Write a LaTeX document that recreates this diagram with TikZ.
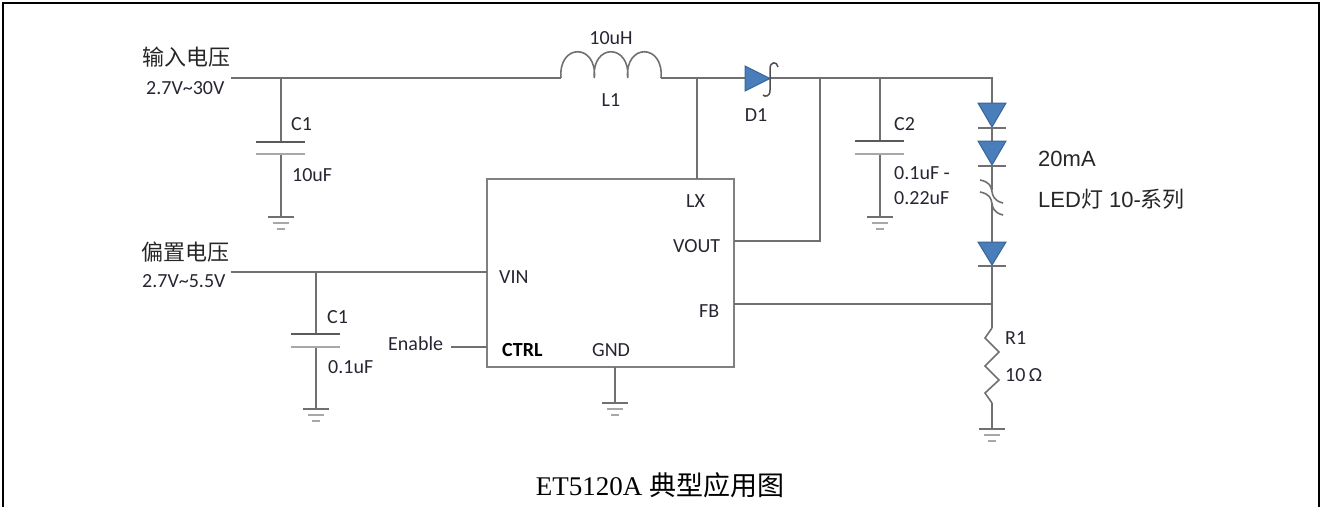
\documentclass[tikz,border=0pt]{standalone}
\usepackage{fontspec}
\setmainfont{Carlito}
\newfontfamily\cjk{Noto Sans CJK SC}
\newfontfamily\arialf{Liberation Sans}
\newfontfamily\timesf{Liberation Serif}
\definecolor{wirec}{HTML}{707070}
\definecolor{platelight}{HTML}{A8A8A8}
\definecolor{ledfill}{HTML}{4A7EBB}
\definecolor{ledline}{HTML}{3A6496}
\definecolor{txt}{HTML}{262633}
\definecolor{boxc}{HTML}{808080}
\begin{document}
\begin{tikzpicture}[x=1pt,y=-1pt,
  wire/.style={draw=wirec, line width=1.6pt},
  darkplate/.style={draw=wirec!80!black, line width=2pt},
  lightplate/.style={draw=platelight, line width=2.4pt},
  lbl/.style={inner sep=0pt, anchor=west, text=txt, font=\fontsize{20}{22}\selectfont},
  clbl/.style={lbl, anchor=center},
  cjklbl/.style={inner sep=0pt, anchor=west, text=black!85, font=\cjk\fontsize{22}{24}\selectfont},
  ledlbl/.style={inner sep=0pt, anchor=west, text=black!85, font=\arialf\fontsize{22}{24}\selectfont},
  icbox/.style={draw=boxc, line width=2pt, inner sep=0pt, minimum width=247pt, minimum height=188pt},
  ledtri/.style={fill=ledfill, draw=ledline, line width=1pt},
  gnd/.pic={
    \draw[wire] (-13,0) -- (13,0);
    \draw[draw=platelight, line width=1.6pt] (-8,6) -- (8,6);
    \draw[draw=platelight, line width=1.6pt] (-4,12) -- (4,12);
  }
]
\useasboundingbox (0,0) rectangle (1323,507);
% frame
\draw[black, line width=2.5pt] (3,507) -- (3,3) -- (1319,3) -- (1319,507);

% ---------- coordinates ----------
\coordinate (inS) at (231,78);
\coordinate (c1j) at (281,78);
\coordinate (c1p1) at (281,142);
\coordinate (c1p2) at (281,154);
\coordinate (c1g) at (281,217);
\coordinate (Ls) at (561,78);
\coordinate (Le) at (661,78);
\coordinate (lxj) at (697,78);
\coordinate (dA) at (745,78);
\coordinate (dK) at (770,78);
\coordinate (voj) at (820,78);
\coordinate (c2j) at (880,78);
\coordinate (c2p1) at (880,141);
\coordinate (c2p2) at (880,154);
\coordinate (c2g) at (880,217);
\coordinate (ledc) at (992,78);
\coordinate (ledA1) at (992,103);
\coordinate (ledK1) at (992,128);
\coordinate (ledA2) at (992,141);
\coordinate (ledK2) at (992,166);
\coordinate (brk1) at (992,190);
\coordinate (brk2) at (992,203);
\coordinate (ledA3) at (992,242);
\coordinate (ledK3) at (992,266);
\coordinate (fbj) at (992,304);
\coordinate (r1t) at (992,328);
\coordinate (r1b) at (992,403);
\coordinate (r1g) at (992,429);

\node[icbox] (ic) at (610.5,273) {};
\coordinate (lxpin) at (697,179);
\coordinate (vopin) at (734,241);
\coordinate (vocorner) at (820,241);
\coordinate (fbpin) at (734,304);
\coordinate (vinpin) at (487,272);
\coordinate (ctrlpin) at (487,347);
\coordinate (gndpin) at (615,367);
\coordinate (gndg) at (615,403);
\coordinate (biasS) at (231,272);
\coordinate (cbj) at (316,272);
\coordinate (cbp1) at (316,334);
\coordinate (cbp2) at (316,347);
\coordinate (cbg) at (316,409);
\coordinate (enS) at (451,347);

% ---------- wires ----------
\draw[wire] (inS) -- (Ls);
\draw[wire] (Le) -- (dA);
\draw[wire] (dK) -- (ledc) -- (ledA1);
\draw[wire] (lxj) -- (lxpin);
\draw[wire] (vopin) -- (vocorner) -- (voj);
\draw[wire] (c1j) -- (c1p1);
\draw[wire] (c1p2) -- (c1g);
\draw[wire] (c2j) -- (c2p1);
\draw[wire] (c2p2) -- (c2g);
\draw[wire] (ledK1) -- (ledA2);
\draw[wire] (ledK2) -- (brk1);
\draw[wire] (brk2) -- (ledA3);
\draw[wire] (ledK3) -- (fbj) -- (r1t);
\draw[wire] (fbpin) -- (fbj);
\draw[wire] (r1b) -- (r1g);
\draw[wire] (biasS) -- (vinpin);
\draw[wire] (cbj) -- (cbp1);
\draw[wire] (cbp2) -- (cbg);
\draw[wire] (enS) -- (ctrlpin);
\draw[wire] (gndpin) -- (gndg);

% capacitors
\draw[darkplate] ([xshift=-25pt]c1p1) -- ([xshift=24pt]c1p1);
\draw[lightplate] ([xshift=-25pt]c1p2) -- ([xshift=24pt]c1p2);
\draw[darkplate] ([xshift=-25pt]c2p1) -- ([xshift=24pt]c2p1);
\draw[lightplate] ([xshift=-25pt]c2p2) -- ([xshift=24pt]c2p2);
\draw[darkplate] ([xshift=-25pt]cbp1) -- ([xshift=24pt]cbp1);
\draw[lightplate] ([xshift=-25pt]cbp2) -- ([xshift=24pt]cbp2);

% grounds
\pic at (c1g) {gnd};
\pic at (c2g) {gnd};
\pic at (cbg) {gnd};
\pic at (gndg) {gnd};
\pic at (r1g) {gnd};

% inductor
\draw[wire] (Ls) .. controls +(-3,-35) and +(3,-35) .. ++(33.33,0)
                 .. controls +(-3,-35) and +(3,-35) .. ++(33.33,0)
                 .. controls +(-3,-35) and +(3,-35) .. (Le);

% Schottky diode D1
\fill[ledtri] (745,66) -- (745,91) -- (770,78.5) -- cycle;
\draw[draw=wirec!70!black, line width=1.5pt] (778,67) .. controls (777,61) and (770,61) .. (770,69)
   -- (770,90) .. controls (770,97) and (765,97) .. (763,95);

% LEDs
\fill[ledtri] (978,103) -- (1006,103) -- (992,127) -- cycle;
\draw[wire] (978,128) -- (1006,128);
\fill[ledtri] (978,141) -- (1006,141) -- (992,165) -- cycle;
\draw[wire] (978,166) -- (1006,166);
\fill[ledtri] (978,242) -- (1006,242) -- (992,265) -- cycle;
\draw[wire] (978,266) -- (1006,266);
% break symbol
\draw[wire] (980,180) .. controls (1000,184) and (984,198) .. (1003,203);
\draw[wire] (980,192) .. controls (1000,196) and (984,210) .. (1003,215);

% resistor R1
\draw[wire] (r1t) -- (985,338) -- (999,352) -- (985,366) -- (999,380) -- (985,393) -- (992,403) -- (r1b);

% ---------- labels ----------
\node[cjklbl] (tin) at (142,57) {输入电压};
\node[lbl] (tinv) at (146,88) {2.7V\textasciitilde30V};
\node[clbl] (tL) at (611,38) {10uH};
\node[clbl] (tL1) at (611,100) {L1};
\node[clbl] (tD1) at (756,115) {D1};
\node[lbl] (tC1) at (291,124) {C1};
\node[lbl] (tC1v) at (292,175) {10uF};
\node[lbl] (tC2) at (894,124) {C2};
\node[lbl] (tC2v) at (894,173) {0.1uF -};
\node[lbl] (tC2w) at (894,198) {0.22uF};
\node[ledlbl] (tled1) at (1038,159) {20mA};
\node[ledlbl] (tled2) at (1038,199) {LED{\cjk 灯} 10-{\cjk 系列}};
\node[lbl] (tR1) at (1005,338) {R1};
\node[lbl] (tR1v) at (1005,375) {10\,Ω};
\node[cjklbl] (tbias) at (141,252) {偏置电压};
\node[lbl] (tbiasv) at (142,281) {2.7V\textasciitilde5.5V};
\node[lbl] (tCb) at (327,317) {C1};
\node[lbl] (tCbv) at (328,367) {0.1uF};
\node[lbl] (ten) at (388,344) {Enable};
\node[lbl] (tvin) at (499,277) {VIN};
\node[lbl] (tlx) at (686,201) {LX};
\node[lbl] (tvout) at (673,246) {VOUT};
\node[lbl] (tfb) at (699,311) {FB};
\node[lbl, text=black, font=\bfseries\fontsize{20}{22}\selectfont] (tctrl) at (502,350) {CTRL};
\node[lbl] (tgnd) at (592,350) {GND};
\node[inner sep=0pt, anchor=base, font=\timesf\fontsize{27}{29}\selectfont] (cap) at (660,495) {ET5120A {\cjk 典型应用图}};
\end{tikzpicture}
\end{document}
